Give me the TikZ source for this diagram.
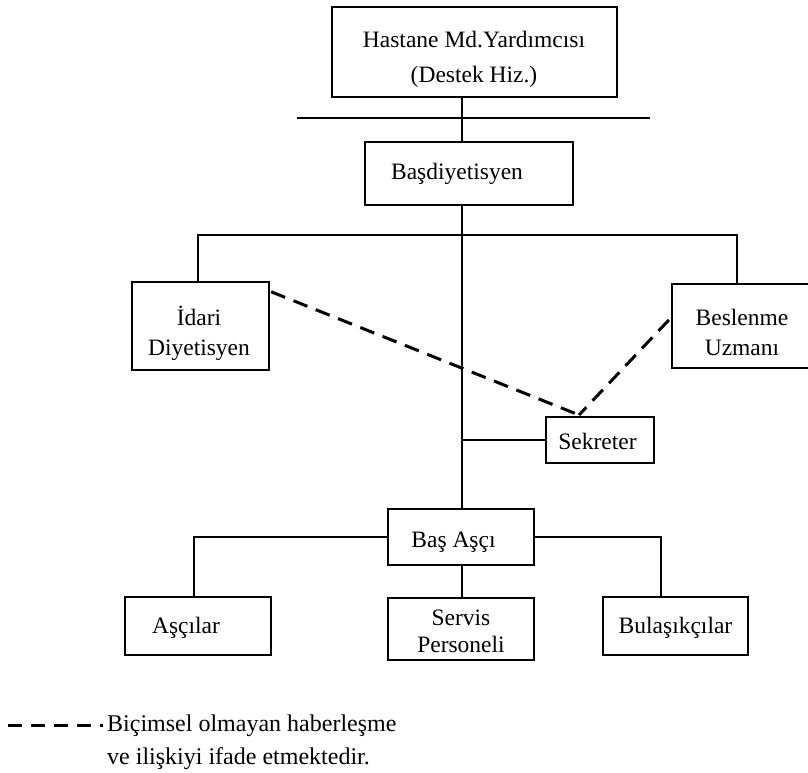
\documentclass[tikz,border=0pt]{standalone}
\usepackage{fontspec}
\setmainfont{Liberation Serif}
\usetikzlibrary{calc}

\tikzset{
  box/.style={draw, line width=2.4pt, inner sep=0pt, fill=none},
  lbl/.style={inner sep=0pt, align=center, font=\fontsize{23.5pt}{30pt}\selectfont},
  link/.style={line width=2pt},
  informal/.style={line width=3pt, dash pattern=on 15pt off 9pt},
  legenddash/.style={line width=3pt, dash pattern=on 14pt off 9pt},
}

\begin{document}
\begin{tikzpicture}[x=1pt, y=-1pt]
  \useasboundingbox (0,0) rectangle (808,772);

  % common vertical spine of the chart
  \coordinate (sx) at (462,0);

  % top level
  \node[box, minimum width=285pt, minimum height=90pt] (top) at (474.5,52) {};
  \node[lbl, font=\fontsize{23.5pt}{35pt}\selectfont] (topT) at (474,59.5) {Hastane Md.Yardımcısı\\(Destek Hiz.)};
  \coordinate (barL) at (297,118);
  \coordinate (barR) at (650,118);
  \draw[link] (barL) -- (barR);

  % head dietitian
  \node[box, minimum width=208pt, minimum height=63pt] (basd) at (469,173.5) {};
  \node[lbl] (basdT) at (457,174) {Başdiyetisyen};
  \draw[link] (top.south -| sx) -- (basd.north -| sx);

  % second level
  \node[box, minimum width=137pt, minimum height=88pt] (idari) at (200.5,326) {};
  \node[lbl] (idariT) at (199,333) {İdari\\Diyetisyen};
  \node[box, minimum width=148pt, minimum height=84pt] (besl) at (746,326) {};
  \node[lbl] (beslT) at (742,332.5) {Beslenme\\Uzmanı};
  \coordinate (lk) at (198,235);
  \coordinate (rk) at (737,235);
  \draw[link] (idari.north -| lk) -- (lk) -- (rk) -- (besl.north -| rk);

  % secretary
  \node[box, minimum width=108pt, minimum height=46pt] (sek) at (600,440) {};
  \node[lbl] (sekT) at (597.5,441) {Sekreter};
  \draw[link] (sek.west) -- (sek.west -| sx);

  % informal relations
  \coordinate (meet) at (579,415);
  \draw[informal] ($(idari.north east)+(1,11)$) -- (meet);
  \draw[informal] ($(besl.west)+(-2,-6)$) -- (meet);

  % head cook
  \node[box, minimum width=146pt, minimum height=56pt] (basa) at (461,537) {};
  \node[lbl] (basaT) at (453.5,542) {Baş Aşçı};
  \draw[link] (basd.south -| sx) -- (basa.north -| sx);

  % kitchen staff
  \node[box, minimum width=146pt, minimum height=58pt] (ascilar) at (198,626) {};
  \node[lbl] (ascilarT) at (186,628) {Aşçılar};
  \node[box, minimum width=146pt, minimum height=62pt] (servis) at (461,629) {};
  \node[lbl, font=\fontsize{23.5pt}{27pt}\selectfont] (servisT) at (461,631) {Servis\\Personeli};
  \node[box, minimum width=145pt, minimum height=58pt] (bulas) at (675.5,626) {};
  \node[lbl] (bulasT) at (675.5,628) {Bulaşıkçılar};
  \coordinate (bl) at (194,537);
  \coordinate (br) at (661,537);
  \draw[link] (basa.west) -- (bl) -- (ascilar.north -| bl);
  \draw[link] (basa.east) -- (br) -- (bulas.north -| br);
  \draw[link] (basa.south -| sx) -- (servis.north -| sx);

  % legend
  \coordinate (lgA) at (8,725);
  \coordinate (lgB) at (103,725);
  \draw[legenddash] (lgA) -- (lgB);
  \node[inner sep=0pt, anchor=west, align=left, font=\fontsize{24pt}{33pt}\selectfont] (lgT) at (107,742) {Biçimsel olmayan haberleşme\\ve ilişkiyi ifade etmektedir.};
\end{tikzpicture}
\end{document}
